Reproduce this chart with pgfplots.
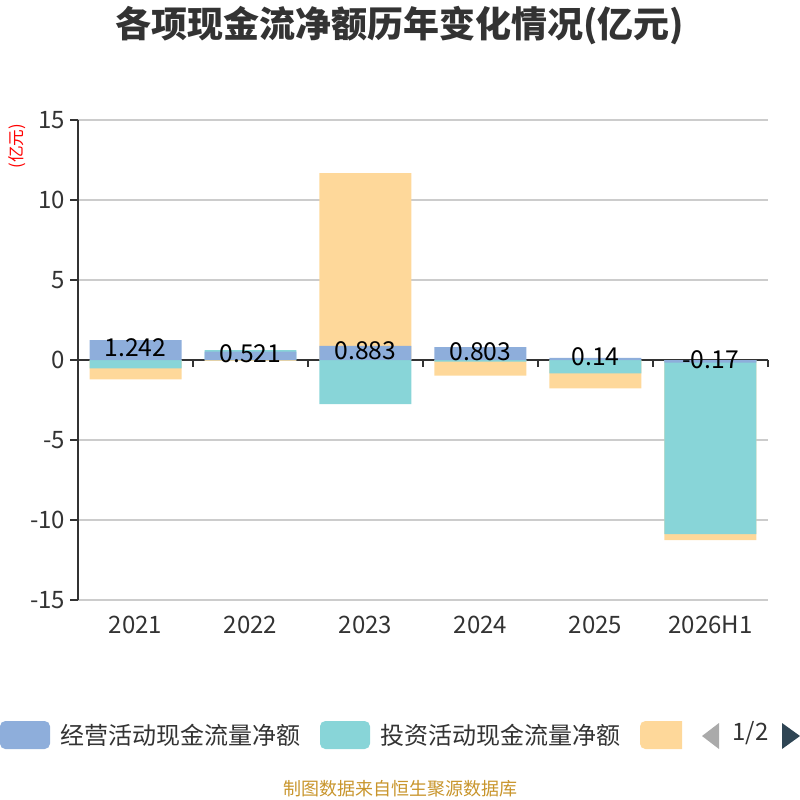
\documentclass[border=0pt]{standalone}
\usepackage{pgfplots}
\pgfplotsset{compat=1.18}
\usepackage{pgfplotstable}
\usepackage{fontspec}
\setmainfont{Noto Sans CJK SC}
\definecolor{cblue}{HTML}{8EAEDB}
\definecolor{cteal}{HTML}{88D5D8}
\definecolor{corange}{HTML}{FED89A}
\definecolor{axisdark}{HTML}{333333}
\definecolor{gridgray}{HTML}{CCCCCC}
\definecolor{footgold}{HTML}{C8952C}
\definecolor{pagerdark}{HTML}{2F4554}
\definecolor{pagergray}{HTML}{AAAAAA}

% operating cash flow (drawn last, nearest zero)
\pgfplotstableread{
x y lab sh
0 1.242 1.242 -5.9
1 0.521 0.521 -1.6
2 0.883 0.883 -3.8
3 0.803 0.803 -3.3
4 0.14 0.14 0.7
5 -0.17 -0.17 2.6
}\opdata
% investing cash flow: stacked end (teal -0.52, 0.10, -2.75, -0.10, -0.83, -10.71)
\pgfplotstableread{
x y
0 -0.52
1 0.621
2 -2.75
3 -0.10
4 -0.83
5 -10.88
}\invdata
% financing cash flow: stacked end (orange -0.69, -0.06, 10.80, -0.87, -0.94, -0.38)
\pgfplotstableread{
x y
0 -1.21
1 -0.06
2 11.683
3 -0.97
4 -1.77
5 -11.26
}\findata

\begin{document}
\begin{tikzpicture}
\useasboundingbox (0pt,0pt) rectangle (600pt,-600pt);
\begin{axis}[
  at={(58.5pt,-450pt)}, anchor=south west,
  scale only axis, width=517.5pt, height=360pt,
  xmin=-0.5, xmax=5.5, ymin=-15, ymax=15,
  ybar, bar width=0.8, bar shift=0pt,
  axis line style={draw=none},
  ytick={-15,-10,-5,0,5,10,15},
  ymajorgrids, grid style={color=gridgray, line width=1.2pt},
  tick align=outside, major tick length=6pt,
  ytick pos=left, xtick pos=bottom,
  ytick style={color=axisdark, line width=1.5pt},
  xtick={0,1,2,3,4,5},
  xticklabels={2021,2022,2023,2024,2025,2026H1},
  xtick style={draw=none},
  ticklabel style={font=\fontsize{18}{20}\selectfont, text=axisdark},
  xticklabel style={yshift=-2.5pt},
  /pgf/number format/assume math mode=true,
  clip=false,
]
\draw[axisdark, line width=1.5pt] (axis cs:-0.5,-15) -- (axis cs:-0.5,15);
\draw[axisdark, line width=1.5pt] (axis cs:-0.5,0) -- (axis cs:5.5,0);
\pgfplotsinvokeforeach{0.5,1.5,2.5,3.5,4.5,5.5}{
  \draw[axisdark, line width=1.5pt] (axis cs:#1,0) -- ([yshift=-5.25pt]axis cs:#1,0);
}
\addplot[fill=corange, draw=none] table[x=x,y=y] {\findata};
\addplot[fill=cteal, draw=none] table[x=x,y=y] {\invdata};
\addplot[fill=cblue, draw=none,
  nodes near coords, point meta=explicit symbolic,
  visualization depends on={\thisrow{sh} \as \sh},
  every node near coord/.append style={anchor=center, yshift=\sh pt,
    font=\fontsize{18.5}{20}\selectfont, text=black, inner sep=0pt}]
  table[x=x,y=y,meta=lab] {\opdata};
\end{axis}
\begin{scope}[x=0.75pt,y=-0.75pt]
\node[text=axisdark] at (400,26) {\fontsize{27}{30}\selectfont\bfseries 各项现金流净额历年变化情况(亿元)};
\node[rotate=90, text=red, inner sep=0pt] at (17,146) {\fontsize{12.5}{14}\selectfont (亿元)};
\fill[cblue, rounded corners=4pt] (0,721) rectangle (50,749);
\node[anchor=west, inner sep=0pt, text=axisdark] at (60,735) {\fontsize{18}{20}\selectfont 经营活动现金流量净额};
\fill[cteal, rounded corners=4pt] (320,721) rectangle (370,749);
\node[anchor=west, inner sep=0pt, text=axisdark] at (380,735) {\fontsize{18}{20}\selectfont 投资活动现金流量净额};
\begin{scope}
\clip (640,715) rectangle (682,755);
\fill[corange, rounded corners=4pt] (640,721) rectangle (692,749);
\end{scope}
\fill[pagergray] (702,736) -- (719,723) -- (719,749) -- cycle;
\node[text=axisdark, inner sep=0pt] at (750.5,733) {\fontsize{18}{20}\selectfont 1/2};
\fill[pagerdark] (782,723) -- (800,736) -- (782,749) -- cycle;
\node[text=footgold] at (400,789) {\fontsize{13.5}{15}\selectfont 制图数据来自恒生聚源数据库};
\end{scope}
\end{tikzpicture}
\end{document}
